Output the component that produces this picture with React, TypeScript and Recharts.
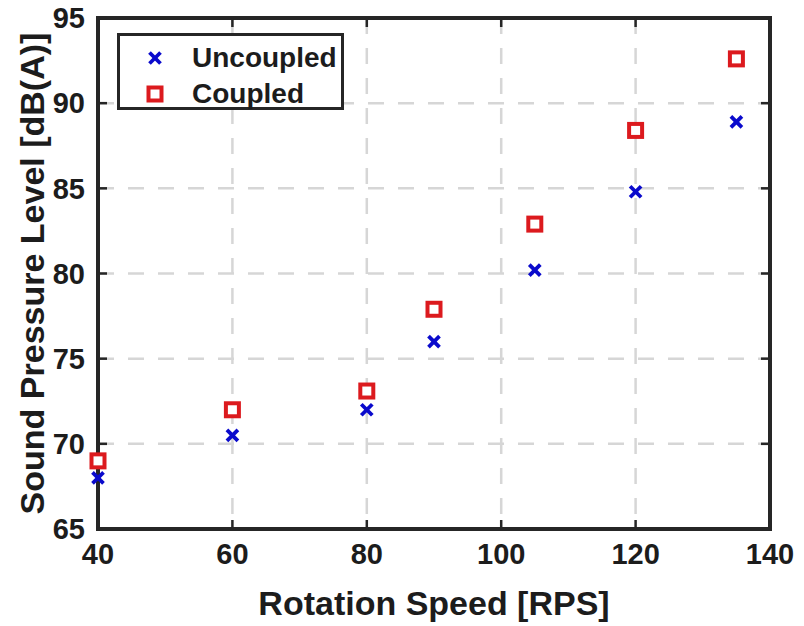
import {
  ScatterChart,
  Scatter,
  XAxis,
  YAxis,
  CartesianGrid,
  Legend,
  Label,
  ReferenceArea,
  ReferenceLine,
} from "recharts"

const speeds = [40, 60, 80, 90, 105, 120, 135]
const uncoupled = [68.0, 70.5, 72.0, 76.0, 80.2, 84.8, 88.9]
const coupled = [69.0, 72.0, 73.1, 77.9, 82.9, 88.4, 92.6]

const xTicks = [40, 60, 80, 100, 120, 140]
const yTicks = [65, 70, 75, 80, 85, 90, 95]

const seriesNames = ["Uncoupled", "Coupled"]

const BLUE = "#0a0acc"
const RED = "#dc1a1e"
const INK = "#1c1c1c"
const FRAME = "#262626"
const FONT = "'Liberation Sans', Arial, Helvetica, sans-serif"

// inward tick length, in axis units (~9px)
const X_TICK_LEN = 0.53
const Y_TICK_LEN = 1.34

const uncoupledData = speeds.map((x, i) => ({ x, y: uncoupled[i] }))
const coupledData = speeds.map((x, i) => ({ x, y: coupled[i] }))

function Cross({ cx, cy }: any) {
  if (cx == null || cy == null) return null
  const a = 5.5
  return (
    <g stroke={BLUE} strokeWidth={3.8}>
      <line x1={cx - a} y1={cy - a} x2={cx + a} y2={cy + a} />
      <line x1={cx - a} y1={cy + a} x2={cx + a} y2={cy - a} />
    </g>
  )
}

function Square({ cx, cy }: any) {
  if (cx == null || cy == null) return null
  const s = 13
  return (
    <rect
      x={cx - s / 2}
      y={cy - s / 2}
      width={s}
      height={s}
      fill="#fff"
      stroke={RED}
      strokeWidth={4}
    />
  )
}

function LegendBox() {
  return (
    <div
      style={{
        width: 227,
        height: 77,
        boxSizing: "border-box",
        border: `3px solid ${FRAME}`,
        background: "#fff",
        fontFamily: FONT,
        fontWeight: "bold",
        fontSize: 28,
        color: INK,
        position: "relative",
      }}
    >
      {seriesNames.map((name, i) => (
        <div
          key={name}
          style={{
            position: "absolute",
            left: 0,
            top: i === 0 ? 4 : 40,
            height: 36,
            display: "flex",
            alignItems: "center",
          }}
        >
          <svg width={72} height={36} style={{ display: "block" }}>
            {i === 0 ? <Cross cx={35} cy={18} /> : <Square cx={35} cy={18} />}
          </svg>
          <span style={{ lineHeight: "36px" }}>{name}</span>
        </div>
      ))}
    </div>
  )
}

const tickStyle = {
  fontFamily: FONT,
  fontWeight: "bold",
  fontSize: 29,
  fill: INK,
}

export default function App() {
  return (
    <div style={{ position: "absolute", left: 0, top: 0, background: "#fff" }}>
      <ScatterChart
        width={804}
        height={626}
        margin={{ top: 18, right: 34, left: 0, bottom: 0 }}
      >
        <CartesianGrid
          stroke="#d6d6d6"
          strokeWidth={2.5}
          strokeDasharray="16 14"
        />
        <XAxis
          dataKey="x"
          type="number"
          domain={[40, 140]}
          ticks={xTicks}
          height={97}
          axisLine={false}
          tickLine={false}
          tickSize={0}
          tickMargin={14}
          tick={tickStyle}
        >
          <Label
            content={({ viewBox }: any) => (
              <text
                x={viewBox.x + viewBox.width / 2}
                y={615}
                textAnchor="middle"
                fontFamily={FONT}
                fontWeight="bold"
                fontSize={34}
                fill={INK}
              >
                Rotation Speed [RPS]
              </text>
            )}
          />
        </XAxis>
        <YAxis
          dataKey="y"
          type="number"
          domain={[65, 95]}
          ticks={yTicks}
          width={98}
          axisLine={false}
          tickLine={false}
          tickSize={0}
          tickMargin={13}
          tick={tickStyle}
        >
          <Label
            content={({ viewBox }: any) => {
              const cy = viewBox.y + viewBox.height / 2
              return (
                <text
                  x={44}
                  y={cy}
                  transform={`rotate(-90, 44, ${cy})`}
                  textAnchor="middle"
                  fontFamily={FONT}
                  fontWeight="bold"
                  fontSize={34}
                  fill={INK}
                >
                  Sound Pressure Level [dB(A)]
                </text>
              )
            }}
          />
        </YAxis>
        {xTicks.map((t) => (
          <ReferenceLine
            key={`xb${t}`}
            segment={[{ x: t, y: 65 }, { x: t, y: 65 + X_TICK_LEN }]}
            stroke={FRAME}
            strokeWidth={2.5}
          />
        ))}
        {xTicks.map((t) => (
          <ReferenceLine
            key={`xt${t}`}
            segment={[{ x: t, y: 95 }, { x: t, y: 95 - X_TICK_LEN }]}
            stroke={FRAME}
            strokeWidth={2.5}
          />
        ))}
        {yTicks.map((t) => (
          <ReferenceLine
            key={`yl${t}`}
            segment={[{ x: 40, y: t }, { x: 40 + Y_TICK_LEN, y: t }]}
            stroke={FRAME}
            strokeWidth={2.5}
          />
        ))}
        {yTicks.map((t) => (
          <ReferenceLine
            key={`yr${t}`}
            segment={[{ x: 140, y: t }, { x: 140 - Y_TICK_LEN, y: t }]}
            stroke={FRAME}
            strokeWidth={2.5}
          />
        ))}
        <ReferenceArea
          x1={40}
          x2={140}
          y1={65}
          y2={95}
          fill="none"
          fillOpacity={0}
          stroke={FRAME}
          strokeWidth={4}
        />
        <Legend
          layout="vertical"
          align="center"
          verticalAlign="middle"
          wrapperStyle={{ left: 117, top: 33, width: 227 }}
          content={() => <LegendBox />}
        />
        <Scatter
          name={seriesNames[0]}
          data={uncoupledData}
          shape={<Cross />}
          isAnimationActive={false}
        />
        <Scatter
          name={seriesNames[1]}
          data={coupledData}
          shape={<Square />}
          isAnimationActive={false}
        />
      </ScatterChart>
    </div>
  )
}
